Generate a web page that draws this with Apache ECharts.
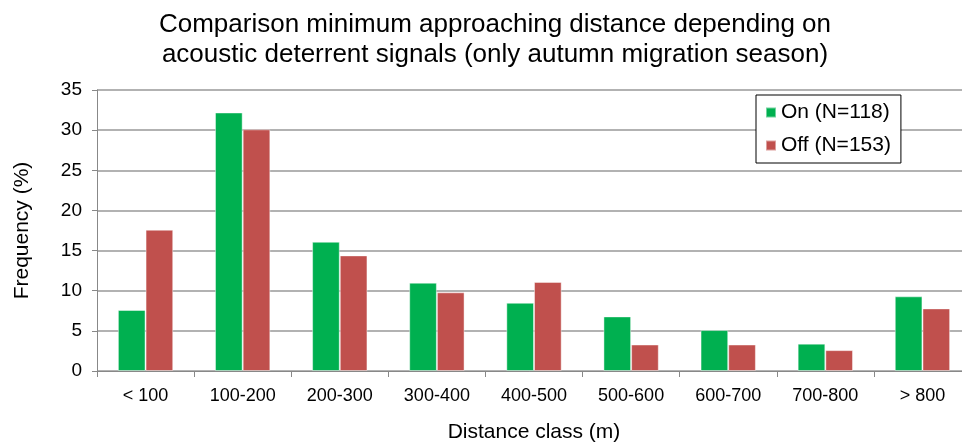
<!DOCTYPE html>
<html><head><meta charset="utf-8">
<script src="https://cdn.jsdelivr.net/npm/echarts@6/dist/echarts.min.js"></script>
<style>html,body{margin:0;padding:0;background:#fff}#c{width:962px;height:443px}</style>
</head><body><div id="c"></div>
<script>
var categories = ['< 100','100-200','200-300','300-400','400-500','500-600','600-700','700-800','> 800'];
var onValues = [7.6, 32.2, 16.1, 11.0, 8.5, 6.8, 5.1, 3.4, 9.3];
var offValues = [17.6, 30.1, 14.4, 9.8, 11.1, 3.3, 3.3, 2.6, 7.8];
var seriesNames = ['On (N=118)', 'Off (N=153)'];
var yTicks = [0, 5, 10, 15, 20, 25, 30, 35];

var FONT = '"Liberation Sans", Arial, sans-serif';
var chart = echarts.init(document.getElementById('c'), null, {renderer: 'canvas'});
chart.setOption({
  animation: false,
  backgroundColor: '#fff',
  title: {
    text: 'Comparison minimum approaching distance depending on\nacoustic deterrent signals (only autumn migration season)',
    left: 490, textAlign: 'center', top: 5,
    textStyle: {fontFamily: FONT, fontSize: 26, fontWeight: 'normal', color: '#000', lineHeight: 30}
  },
  legend: {
    orient: 'vertical', left: 756, top: 95,
    padding: [7, 10, 7, 9],
    itemGap: 12,
    itemWidth: 10, itemHeight: 10, icon: 'rect',
    borderColor: '#000', borderWidth: 1, backgroundColor: '#fff',
    textStyle: {fontFamily: FONT, fontSize: 21, color: '#000', padding: [0, 0, 0, 0]},
    data: seriesNames
  },
  grid: {left: 97, top: 90, width: 874, height: 281, containLabel: false, outerBoundsMode: 'none'},
  xAxis: {
    type: 'category', data: categories,
    name: 'Distance class (m)', nameLocation: 'middle', nameGap: 51,
    nameTextStyle: {fontFamily: FONT, fontSize: 21, color: '#000'},
    axisLine: {lineStyle: {color: '#888', width: 1}},
    axisTick: {show: true, length: 6, lineStyle: {color: '#888'}},
    axisLabel: {fontFamily: FONT, fontSize: 18, color: '#000', margin: 16}
  },
  yAxis: {
    type: 'value', min: yTicks[0], max: yTicks[yTicks.length-1], interval: 5,
    name: 'Frequency (%)', nameLocation: 'middle', nameGap: 64,
    nameTextStyle: {fontFamily: FONT, fontSize: 21, color: '#000'},
    axisLine: {show: true, lineStyle: {color: '#888', width: 1}},
    axisTick: {show: true, length: 5, lineStyle: {color: '#888'}},
    axisLabel: {fontFamily: FONT, fontSize: 19, color: '#000', margin: 15},
    splitLine: {lineStyle: {color: '#999', width: 1.5}}
  },
  series: [
    {name: seriesNames[0], type: 'bar', data: onValues, barGap: '0%', barCategoryGap: '43%',
     itemStyle: {color: '#00B050', borderColor: 'rgba(255,255,255,0.45)', borderWidth: 1}},
    {name: seriesNames[1], type: 'bar', data: offValues, barGap: '0%', barCategoryGap: '43%',
     itemStyle: {color: '#C0504D', borderColor: 'rgba(255,255,255,0.45)', borderWidth: 1}}
  ]
});
</script></body></html>
